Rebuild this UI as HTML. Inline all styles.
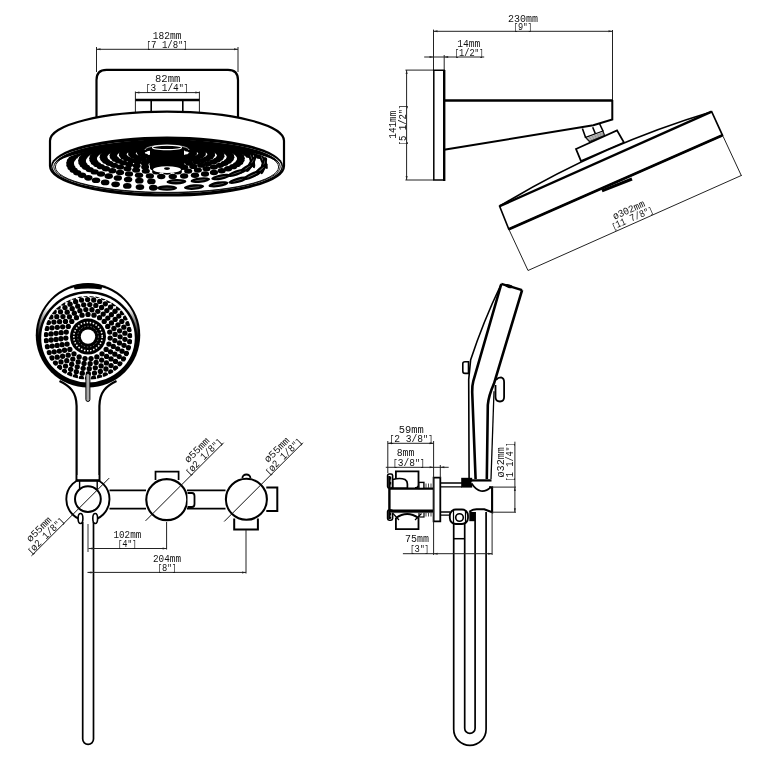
<!DOCTYPE html>
<html><head><meta charset="utf-8"><style>
html,body{margin:0;padding:0;background:#fff;}
svg{display:block;will-change:transform;}
text{font-family:"Liberation Mono", monospace;fill:#111;}
</style></head><body>
<svg width="780" height="769" viewBox="0 0 780 769">
<rect width="780" height="769" fill="#fff"/>
<line x1="96.50" y1="47.00" x2="96.50" y2="72.00" stroke="#222" stroke-width="1.0"/>
<line x1="238.00" y1="47.00" x2="238.00" y2="72.00" stroke="#222" stroke-width="1.0"/>
<line x1="96.50" y1="49.30" x2="238.00" y2="49.30" stroke="#222" stroke-width="1.0"/>
<path d="M96.50,49.30 L100.50,48.30 L100.50,50.30 Z" fill="#222" stroke="none"/>
<path d="M238.00,49.30 L234.00,50.30 L234.00,48.30 Z" fill="#222" stroke="none"/>
<text x="167.20" y="38.50" text-anchor="middle" font-size="10.2" textLength="28.70" lengthAdjust="spacingAndGlyphs">182mm</text>
<text x="167.00" y="47.60" text-anchor="middle" font-size="10.2" textLength="40.90" lengthAdjust="spacingAndGlyphs"><tspan font-size="8.4">[</tspan>7 1/8<tspan font-size="9">&quot;</tspan><tspan font-size="8.4">]</tspan></text>
<path d="M96.5,117 V80 Q96.5,69.8 106.5,69.8 H228 Q238,69.8 238,80 V117" fill="none" stroke="#000" stroke-width="2.2" />
<line x1="135.40" y1="91.50" x2="135.40" y2="113.00" stroke="#222" stroke-width="1.0"/>
<line x1="199.40" y1="91.50" x2="199.40" y2="113.00" stroke="#222" stroke-width="1.0"/>
<line x1="135.40" y1="92.60" x2="199.40" y2="92.60" stroke="#222" stroke-width="1.0"/>
<path d="M135.40,92.60 L139.40,91.60 L139.40,93.60 Z" fill="#222" stroke="none"/>
<path d="M199.40,92.60 L195.40,93.60 L195.40,91.60 Z" fill="#222" stroke="none"/>
<text x="167.70" y="82.40" text-anchor="middle" font-size="10.2" textLength="25.40" lengthAdjust="spacingAndGlyphs">82mm</text>
<text x="167.10" y="91.40" text-anchor="middle" font-size="10.2" textLength="42.70" lengthAdjust="spacingAndGlyphs"><tspan font-size="8.4">[</tspan>3 1/4<tspan font-size="9">&quot;</tspan><tspan font-size="8.4">]</tspan></text>
<line x1="135.40" y1="100.00" x2="199.40" y2="100.00" stroke="#000" stroke-width="2.7"/>
<line x1="151.20" y1="100.00" x2="151.20" y2="113.00" stroke="#000" stroke-width="1.6"/>
<line x1="182.80" y1="100.00" x2="182.80" y2="113.00" stroke="#000" stroke-width="1.6"/>
<path d="M50,140.7 A117,29 0 0 1 284,140.7 V166 A117,29.5 0 0 1 50,166 Z" fill="#fff" stroke="#000" stroke-width="2.2" />
<ellipse cx="167" cy="166" rx="116" ry="29.6" fill="#000"/>
<ellipse cx="167" cy="166.6" rx="114.6" ry="26.6" fill="#fff"/>
<ellipse cx="167" cy="166.8" rx="113.2" ry="26.0" fill="none" stroke="#000" stroke-width="0.9"/>
<ellipse cx="167" cy="167.0" rx="111.6" ry="25.4" fill="none" stroke="#000" stroke-width="0.9"/>
<path d="M54,166.6 A113,27 0 0 1 280,166.6 A113,20.5 0 0 0 54,166.6 Z" fill="#000"/>
<clipPath id="faceclip"><ellipse cx="167" cy="167.8" rx="110.5" ry="23.7"/></clipPath>
<g clip-path="url(#faceclip)"><ellipse cx="193.10" cy="152.00" rx="3.80" ry="2.45" fill="#000"/><ellipse cx="193.16" cy="153.63" rx="3.82" ry="2.47" fill="#000"/><ellipse cx="191.12" cy="155.26" rx="3.85" ry="2.49" fill="#000"/><ellipse cx="186.93" cy="156.74" rx="3.87" ry="2.52" fill="#000"/><ellipse cx="180.78" cy="157.91" rx="3.89" ry="2.53" fill="#000"/><ellipse cx="173.19" cy="158.62" rx="3.90" ry="2.54" fill="#000"/><ellipse cx="164.92" cy="158.77" rx="3.90" ry="2.54" fill="#000"/><ellipse cx="156.88" cy="158.33" rx="3.89" ry="2.54" fill="#000"/><ellipse cx="149.93" cy="157.38" rx="3.88" ry="2.52" fill="#000"/><ellipse cx="144.71" cy="156.03" rx="3.86" ry="2.51" fill="#000"/><ellipse cx="141.59" cy="154.45" rx="3.84" ry="2.48" fill="#000"/><ellipse cx="140.62" cy="152.81" rx="3.81" ry="2.46" fill="#000"/><ellipse cx="141.64" cy="151.23" rx="3.79" ry="2.40" fill="#000"/><ellipse cx="144.37" cy="149.82" rx="3.77" ry="2.31" fill="#000"/><ellipse cx="148.45" cy="148.65" rx="3.75" ry="2.24" fill="#000"/><ellipse cx="153.54" cy="147.76" rx="3.74" ry="2.18" fill="#000"/><ellipse cx="159.31" cy="147.19" rx="3.73" ry="2.14" fill="#000"/><ellipse cx="165.44" cy="146.94" rx="3.72" ry="2.12" fill="#000"/><ellipse cx="171.65" cy="147.03" rx="3.73" ry="2.12" fill="#000"/><ellipse cx="177.64" cy="147.44" rx="3.73" ry="2.15" fill="#000"/><ellipse cx="183.11" cy="148.17" rx="3.74" ry="2.20" fill="#000"/><ellipse cx="187.74" cy="149.20" rx="3.76" ry="2.27" fill="#000"/><ellipse cx="191.19" cy="150.49" rx="3.78" ry="2.36" fill="#000"/><ellipse cx="202.07" cy="152.82" rx="3.81" ry="2.46" fill="#000"/><ellipse cx="201.94" cy="154.52" rx="3.84" ry="2.48" fill="#000"/><ellipse cx="200.11" cy="156.25" rx="3.86" ry="2.51" fill="#000"/><ellipse cx="196.47" cy="157.90" rx="3.89" ry="2.53" fill="#000"/><ellipse cx="191.05" cy="159.36" rx="3.91" ry="2.55" fill="#000"/><ellipse cx="184.05" cy="160.51" rx="3.93" ry="2.57" fill="#000"/><ellipse cx="175.85" cy="161.25" rx="3.94" ry="2.58" fill="#000"/><ellipse cx="167.00" cy="161.50" rx="3.94" ry="2.58" fill="#000"/><ellipse cx="158.15" cy="161.25" rx="3.94" ry="2.58" fill="#000"/><ellipse cx="149.95" cy="160.51" rx="3.93" ry="2.57" fill="#000"/><ellipse cx="142.95" cy="159.36" rx="3.91" ry="2.55" fill="#000"/><ellipse cx="137.53" cy="157.90" rx="3.89" ry="2.53" fill="#000"/><ellipse cx="133.89" cy="156.25" rx="3.86" ry="2.51" fill="#000"/><ellipse cx="132.06" cy="154.52" rx="3.84" ry="2.48" fill="#000"/><ellipse cx="131.93" cy="152.82" rx="3.81" ry="2.46" fill="#000"/><ellipse cx="133.31" cy="151.21" rx="3.79" ry="2.40" fill="#000"/><ellipse cx="135.97" cy="149.76" rx="3.77" ry="2.31" fill="#000"/><ellipse cx="139.69" cy="148.50" rx="3.75" ry="2.23" fill="#000"/><ellipse cx="144.24" cy="147.45" rx="3.73" ry="2.15" fill="#000"/><ellipse cx="149.42" cy="146.62" rx="3.72" ry="2.10" fill="#000"/><ellipse cx="155.04" cy="146.03" rx="3.71" ry="2.05" fill="#000"/><ellipse cx="160.95" cy="145.68" rx="3.71" ry="2.03" fill="#000"/><ellipse cx="167.00" cy="145.56" rx="3.70" ry="2.02" fill="#000"/><ellipse cx="173.05" cy="145.68" rx="3.71" ry="2.03" fill="#000"/><ellipse cx="178.96" cy="146.03" rx="3.71" ry="2.05" fill="#000"/><ellipse cx="184.58" cy="146.62" rx="3.72" ry="2.10" fill="#000"/><ellipse cx="189.76" cy="147.45" rx="3.73" ry="2.15" fill="#000"/><ellipse cx="194.31" cy="148.50" rx="3.75" ry="2.23" fill="#000"/><ellipse cx="198.03" cy="149.76" rx="3.77" ry="2.31" fill="#000"/><ellipse cx="200.69" cy="151.21" rx="3.79" ry="2.40" fill="#000"/><ellipse cx="210.02" cy="152.00" rx="3.80" ry="2.45" fill="#000"/><ellipse cx="211.17" cy="153.64" rx="3.82" ry="2.47" fill="#000"/><ellipse cx="211.11" cy="155.37" rx="3.85" ry="2.50" fill="#000"/><ellipse cx="209.69" cy="157.13" rx="3.88" ry="2.52" fill="#000"/><ellipse cx="206.79" cy="158.88" rx="3.90" ry="2.54" fill="#000"/><ellipse cx="202.35" cy="160.53" rx="3.93" ry="2.57" fill="#000"/><ellipse cx="196.42" cy="162.01" rx="3.95" ry="2.59" fill="#000"/><ellipse cx="189.12" cy="163.21" rx="3.97" ry="2.60" fill="#000"/><ellipse cx="180.75" cy="164.06" rx="3.98" ry="2.62" fill="#000"/><ellipse cx="171.66" cy="164.51" rx="3.99" ry="2.62" fill="#000"/><ellipse cx="162.34" cy="164.51" rx="3.99" ry="2.62" fill="#000"/><ellipse cx="153.25" cy="164.06" rx="3.98" ry="2.62" fill="#000"/><ellipse cx="144.88" cy="163.21" rx="3.97" ry="2.60" fill="#000"/><ellipse cx="137.58" cy="162.01" rx="3.95" ry="2.59" fill="#000"/><ellipse cx="131.65" cy="160.53" rx="3.93" ry="2.57" fill="#000"/><ellipse cx="127.21" cy="158.88" rx="3.90" ry="2.54" fill="#000"/><ellipse cx="124.31" cy="157.13" rx="3.88" ry="2.52" fill="#000"/><ellipse cx="122.89" cy="155.37" rx="3.85" ry="2.50" fill="#000"/><ellipse cx="122.83" cy="153.64" rx="3.82" ry="2.47" fill="#000"/><ellipse cx="123.98" cy="152.00" rx="3.80" ry="2.45" fill="#000"/><ellipse cx="126.17" cy="150.49" rx="3.78" ry="2.36" fill="#000"/><ellipse cx="129.24" cy="149.12" rx="3.76" ry="2.27" fill="#000"/><ellipse cx="133.03" cy="147.91" rx="3.74" ry="2.19" fill="#000"/><ellipse cx="137.40" cy="146.88" rx="3.72" ry="2.11" fill="#000"/><ellipse cx="142.22" cy="146.02" rx="3.71" ry="2.05" fill="#000"/><ellipse cx="147.39" cy="145.33" rx="3.70" ry="2.00" fill="#000"/><ellipse cx="152.82" cy="144.82" rx="3.69" ry="1.96" fill="#000"/><ellipse cx="158.43" cy="144.48" rx="3.69" ry="1.93" fill="#000"/><ellipse cx="164.13" cy="144.31" rx="3.68" ry="1.92" fill="#000"/><ellipse cx="169.87" cy="144.31" rx="3.68" ry="1.92" fill="#000"/><ellipse cx="175.57" cy="144.48" rx="3.69" ry="1.93" fill="#000"/><ellipse cx="181.18" cy="144.82" rx="3.69" ry="1.96" fill="#000"/><ellipse cx="186.61" cy="145.33" rx="3.70" ry="2.00" fill="#000"/><ellipse cx="191.78" cy="146.02" rx="3.71" ry="2.05" fill="#000"/><ellipse cx="196.60" cy="146.88" rx="3.72" ry="2.11" fill="#000"/><ellipse cx="200.97" cy="147.91" rx="3.74" ry="2.19" fill="#000"/><ellipse cx="204.76" cy="149.12" rx="3.76" ry="2.27" fill="#000"/><ellipse cx="207.83" cy="150.49" rx="3.78" ry="2.36" fill="#000"/><ellipse cx="219.40" cy="152.81" rx="3.81" ry="2.46" fill="#000"/><ellipse cx="220.54" cy="154.53" rx="3.84" ry="2.48" fill="#000"/><ellipse cx="220.62" cy="156.34" rx="3.87" ry="2.51" fill="#000"/><ellipse cx="219.50" cy="158.20" rx="3.89" ry="2.54" fill="#000"/><ellipse cx="217.06" cy="160.08" rx="3.92" ry="2.56" fill="#000"/><ellipse cx="213.21" cy="161.92" rx="3.95" ry="2.59" fill="#000"/><ellipse cx="207.92" cy="163.64" rx="3.97" ry="2.61" fill="#000"/><ellipse cx="201.21" cy="165.17" rx="4.00" ry="2.63" fill="#000"/><ellipse cx="193.24" cy="166.43" rx="4.02" ry="2.65" fill="#000"/><ellipse cx="184.24" cy="167.36" rx="4.03" ry="2.66" fill="#000"/><ellipse cx="174.52" cy="167.90" rx="4.04" ry="2.67" fill="#000"/><ellipse cx="164.48" cy="168.01" rx="4.04" ry="2.67" fill="#000"/><ellipse cx="154.56" cy="167.68" rx="4.04" ry="2.67" fill="#000"/><ellipse cx="145.15" cy="166.95" rx="4.02" ry="2.66" fill="#000"/><ellipse cx="136.62" cy="165.84" rx="4.01" ry="2.64" fill="#000"/><ellipse cx="129.27" cy="164.43" rx="3.99" ry="2.62" fill="#000"/><ellipse cx="123.26" cy="162.80" rx="3.96" ry="2.60" fill="#000"/><ellipse cx="118.68" cy="161.01" rx="3.94" ry="2.57" fill="#000"/><ellipse cx="115.54" cy="159.15" rx="3.91" ry="2.55" fill="#000"/><ellipse cx="113.78" cy="157.27" rx="3.88" ry="2.52" fill="#000"/><ellipse cx="113.28" cy="155.42" rx="3.85" ry="2.50" fill="#000"/><ellipse cx="113.91" cy="153.66" rx="3.82" ry="2.47" fill="#000"/><ellipse cx="115.52" cy="152.00" rx="3.80" ry="2.45" fill="#000"/><ellipse cx="117.97" cy="150.47" rx="3.78" ry="2.36" fill="#000"/><ellipse cx="121.13" cy="149.08" rx="3.76" ry="2.27" fill="#000"/><ellipse cx="124.87" cy="147.83" rx="3.74" ry="2.18" fill="#000"/><ellipse cx="129.09" cy="146.74" rx="3.72" ry="2.10" fill="#000"/><ellipse cx="133.69" cy="145.79" rx="3.71" ry="2.03" fill="#000"/><ellipse cx="138.59" cy="144.99" rx="3.69" ry="1.97" fill="#000"/><ellipse cx="143.73" cy="144.33" rx="3.69" ry="1.92" fill="#000"/><ellipse cx="149.05" cy="143.82" rx="3.68" ry="1.88" fill="#000"/><ellipse cx="154.49" cy="143.45" rx="3.67" ry="1.85" fill="#000"/><ellipse cx="160.03" cy="143.21" rx="3.67" ry="1.83" fill="#000"/><ellipse cx="165.60" cy="143.11" rx="3.67" ry="1.82" fill="#000"/><ellipse cx="171.19" cy="143.14" rx="3.67" ry="1.82" fill="#000"/><ellipse cx="176.75" cy="143.31" rx="3.67" ry="1.84" fill="#000"/><ellipse cx="182.24" cy="143.62" rx="3.67" ry="1.86" fill="#000"/><ellipse cx="187.63" cy="144.06" rx="3.68" ry="1.90" fill="#000"/><ellipse cx="192.87" cy="144.64" rx="3.69" ry="1.95" fill="#000"/><ellipse cx="197.89" cy="145.37" rx="3.70" ry="2.00" fill="#000"/><ellipse cx="202.65" cy="146.24" rx="3.71" ry="2.07" fill="#000"/><ellipse cx="207.07" cy="147.27" rx="3.73" ry="2.14" fill="#000"/><ellipse cx="211.07" cy="148.44" rx="3.75" ry="2.22" fill="#000"/><ellipse cx="214.53" cy="149.75" rx="3.77" ry="2.31" fill="#000"/><ellipse cx="217.35" cy="151.22" rx="3.79" ry="2.40" fill="#000"/><ellipse cx="226.94" cy="152.00" rx="3.80" ry="2.45" fill="#000"/><ellipse cx="228.99" cy="153.67" rx="3.83" ry="2.47" fill="#000"/><ellipse cx="230.24" cy="155.46" rx="3.85" ry="2.50" fill="#000"/><ellipse cx="230.55" cy="157.36" rx="3.88" ry="2.52" fill="#000"/><ellipse cx="229.79" cy="159.32" rx="3.91" ry="2.55" fill="#000"/><ellipse cx="227.84" cy="161.33" rx="3.94" ry="2.58" fill="#000"/><ellipse cx="224.58" cy="163.34" rx="3.97" ry="2.61" fill="#000"/><ellipse cx="219.94" cy="165.28" rx="4.00" ry="2.63" fill="#000"/><ellipse cx="213.90" cy="167.10" rx="4.03" ry="2.66" fill="#000"/><ellipse cx="206.50" cy="168.73" rx="4.05" ry="2.68" fill="#000"/><ellipse cx="197.87" cy="170.09" rx="4.07" ry="2.70" fill="#000"/><ellipse cx="188.20" cy="171.11" rx="4.09" ry="2.71" fill="#000"/><ellipse cx="177.79" cy="171.75" rx="4.10" ry="2.72" fill="#000"/><ellipse cx="167.00" cy="171.97" rx="4.10" ry="2.72" fill="#000"/><ellipse cx="156.21" cy="171.75" rx="4.10" ry="2.72" fill="#000"/><ellipse cx="145.80" cy="171.11" rx="4.09" ry="2.71" fill="#000"/><ellipse cx="136.13" cy="170.09" rx="4.07" ry="2.70" fill="#000"/><ellipse cx="127.50" cy="168.73" rx="4.05" ry="2.68" fill="#000"/><ellipse cx="120.10" cy="167.10" rx="4.03" ry="2.66" fill="#000"/><ellipse cx="114.06" cy="165.28" rx="4.00" ry="2.63" fill="#000"/><ellipse cx="109.42" cy="163.34" rx="3.97" ry="2.61" fill="#000"/><ellipse cx="106.16" cy="161.33" rx="3.94" ry="2.58" fill="#000"/><ellipse cx="104.21" cy="159.32" rx="3.91" ry="2.55" fill="#000"/><ellipse cx="103.45" cy="157.36" rx="3.88" ry="2.52" fill="#000"/><ellipse cx="103.76" cy="155.46" rx="3.85" ry="2.50" fill="#000"/><ellipse cx="105.01" cy="153.67" rx="3.83" ry="2.47" fill="#000"/><ellipse cx="107.06" cy="152.00" rx="3.80" ry="2.45" fill="#000"/><ellipse cx="109.79" cy="150.46" rx="3.78" ry="2.35" fill="#000"/><ellipse cx="113.10" cy="149.05" rx="3.76" ry="2.26" fill="#000"/><ellipse cx="116.87" cy="147.78" rx="3.74" ry="2.18" fill="#000"/><ellipse cx="121.04" cy="146.64" rx="3.72" ry="2.10" fill="#000"/><ellipse cx="125.52" cy="145.64" rx="3.70" ry="2.02" fill="#000"/><ellipse cx="130.25" cy="144.76" rx="3.69" ry="1.96" fill="#000"/><ellipse cx="135.18" cy="144.02" rx="3.68" ry="1.90" fill="#000"/><ellipse cx="140.27" cy="143.40" rx="3.67" ry="1.85" fill="#000"/><ellipse cx="145.49" cy="142.89" rx="3.66" ry="1.80" fill="#000"/><ellipse cx="150.79" cy="142.50" rx="3.66" ry="1.77" fill="#000"/><ellipse cx="156.16" cy="142.23" rx="3.65" ry="1.75" fill="#000"/><ellipse cx="161.57" cy="142.06" rx="3.65" ry="1.73" fill="#000"/><ellipse cx="167.00" cy="142.01" rx="3.65" ry="1.73" fill="#000"/><ellipse cx="172.43" cy="142.06" rx="3.65" ry="1.73" fill="#000"/><ellipse cx="177.84" cy="142.23" rx="3.65" ry="1.75" fill="#000"/><ellipse cx="183.21" cy="142.50" rx="3.66" ry="1.77" fill="#000"/><ellipse cx="188.51" cy="142.89" rx="3.66" ry="1.80" fill="#000"/><ellipse cx="193.73" cy="143.40" rx="3.67" ry="1.85" fill="#000"/><ellipse cx="198.82" cy="144.02" rx="3.68" ry="1.90" fill="#000"/><ellipse cx="203.75" cy="144.76" rx="3.69" ry="1.96" fill="#000"/><ellipse cx="208.48" cy="145.64" rx="3.70" ry="2.02" fill="#000"/><ellipse cx="212.96" cy="146.64" rx="3.72" ry="2.10" fill="#000"/><ellipse cx="217.13" cy="147.78" rx="3.74" ry="2.18" fill="#000"/><ellipse cx="220.90" cy="149.05" rx="3.76" ry="2.26" fill="#000"/><ellipse cx="224.21" cy="150.46" rx="3.78" ry="2.35" fill="#000"/><ellipse cx="236.69" cy="152.81" rx="3.81" ry="2.46" fill="#000"/><ellipse cx="238.83" cy="154.53" rx="3.84" ry="2.48" fill="#000"/><ellipse cx="240.28" cy="156.36" rx="3.87" ry="2.51" fill="#000"/><ellipse cx="240.92" cy="158.31" rx="3.89" ry="2.54" fill="#000"/><ellipse cx="240.65" cy="160.34" rx="3.93" ry="2.56" fill="#000"/><ellipse cx="239.34" cy="162.44" rx="3.96" ry="2.59" fill="#000"/><ellipse cx="236.86" cy="164.57" rx="3.99" ry="2.62" fill="#000"/><ellipse cx="233.14" cy="166.70" rx="4.02" ry="2.65" fill="#000"/><ellipse cx="228.08" cy="168.76" rx="4.05" ry="2.68" fill="#000"/><ellipse cx="221.68" cy="170.71" rx="4.08" ry="2.71" fill="#000"/><ellipse cx="213.95" cy="172.48" rx="4.11" ry="2.73" fill="#000"/><ellipse cx="204.99" cy="173.99" rx="4.13" ry="2.75" fill="#000"/><ellipse cx="194.97" cy="175.20" rx="4.15" ry="2.77" fill="#000"/><ellipse cx="184.13" cy="176.03" rx="4.16" ry="2.78" fill="#000"/><ellipse cx="172.77" cy="176.46" rx="4.17" ry="2.79" fill="#000"/><ellipse cx="161.23" cy="176.46" rx="4.17" ry="2.79" fill="#000"/><ellipse cx="149.87" cy="176.03" rx="4.16" ry="2.78" fill="#000"/><ellipse cx="139.03" cy="175.20" rx="4.15" ry="2.77" fill="#000"/><ellipse cx="129.01" cy="173.99" rx="4.13" ry="2.75" fill="#000"/><ellipse cx="120.05" cy="172.48" rx="4.11" ry="2.73" fill="#000"/><ellipse cx="112.32" cy="170.71" rx="4.08" ry="2.71" fill="#000"/><ellipse cx="105.92" cy="168.76" rx="4.05" ry="2.68" fill="#000"/><ellipse cx="100.86" cy="166.70" rx="4.02" ry="2.65" fill="#000"/><ellipse cx="97.14" cy="164.57" rx="3.99" ry="2.62" fill="#000"/><ellipse cx="94.66" cy="162.44" rx="3.96" ry="2.59" fill="#000"/><ellipse cx="93.35" cy="160.34" rx="3.93" ry="2.56" fill="#000"/><ellipse cx="93.08" cy="158.31" rx="3.89" ry="2.54" fill="#000"/><ellipse cx="93.72" cy="156.36" rx="3.87" ry="2.51" fill="#000"/><ellipse cx="95.17" cy="154.53" rx="3.84" ry="2.48" fill="#000"/><ellipse cx="97.31" cy="152.81" rx="3.81" ry="2.46" fill="#000"/><ellipse cx="100.03" cy="151.22" rx="3.79" ry="2.40" fill="#000"/><ellipse cx="103.23" cy="149.76" rx="3.77" ry="2.31" fill="#000"/><ellipse cx="106.85" cy="148.42" rx="3.75" ry="2.22" fill="#000"/><ellipse cx="110.80" cy="147.21" rx="3.73" ry="2.14" fill="#000"/><ellipse cx="115.02" cy="146.11" rx="3.71" ry="2.06" fill="#000"/><ellipse cx="119.47" cy="145.14" rx="3.70" ry="1.99" fill="#000"/><ellipse cx="124.10" cy="144.28" rx="3.68" ry="1.92" fill="#000"/><ellipse cx="128.88" cy="143.53" rx="3.67" ry="1.86" fill="#000"/><ellipse cx="133.77" cy="142.88" rx="3.66" ry="1.80" fill="#000"/><ellipse cx="138.75" cy="142.33" rx="3.65" ry="1.76" fill="#000"/><ellipse cx="143.80" cy="141.88" rx="3.65" ry="1.72" fill="#000"/><ellipse cx="148.91" cy="141.53" rx="3.64" ry="1.68" fill="#000"/><ellipse cx="154.05" cy="141.26" rx="3.64" ry="1.66" fill="#000"/><ellipse cx="159.22" cy="141.08" rx="3.64" ry="1.64" fill="#000"/><ellipse cx="164.40" cy="141.00" rx="3.63" ry="1.64" fill="#000"/><ellipse cx="169.60" cy="141.00" rx="3.63" ry="1.64" fill="#000"/><ellipse cx="174.78" cy="141.08" rx="3.64" ry="1.64" fill="#000"/><ellipse cx="179.95" cy="141.26" rx="3.64" ry="1.66" fill="#000"/><ellipse cx="185.09" cy="141.53" rx="3.64" ry="1.68" fill="#000"/><ellipse cx="190.20" cy="141.88" rx="3.65" ry="1.72" fill="#000"/><ellipse cx="195.25" cy="142.33" rx="3.65" ry="1.76" fill="#000"/><ellipse cx="200.23" cy="142.88" rx="3.66" ry="1.80" fill="#000"/><ellipse cx="205.12" cy="143.53" rx="3.67" ry="1.86" fill="#000"/><ellipse cx="209.90" cy="144.28" rx="3.68" ry="1.92" fill="#000"/><ellipse cx="214.53" cy="145.14" rx="3.70" ry="1.99" fill="#000"/><ellipse cx="218.98" cy="146.11" rx="3.71" ry="2.06" fill="#000"/><ellipse cx="223.20" cy="147.21" rx="3.73" ry="2.14" fill="#000"/><ellipse cx="227.15" cy="148.42" rx="3.75" ry="2.22" fill="#000"/><ellipse cx="230.77" cy="149.76" rx="3.77" ry="2.31" fill="#000"/><ellipse cx="233.97" cy="151.22" rx="3.79" ry="2.40" fill="#000"/><ellipse cx="243.86" cy="152.00" rx="3.80" ry="2.45" fill="#000"/><ellipse cx="246.71" cy="153.67" rx="3.82" ry="2.47" fill="#000"/><ellipse cx="249.04" cy="155.46" rx="3.85" ry="2.50" fill="#000"/><ellipse cx="251.78" cy="159.42" rx="9.19" ry="2.42" fill="#000" transform="rotate(73.7 251.78 159.42)"/><ellipse cx="251.78" cy="159.42" rx="5.08" ry="0.35" fill="#777" transform="rotate(73.7 251.78 159.42)"/><ellipse cx="251.19" cy="163.80" rx="9.35" ry="2.48" fill="#000" transform="rotate(119.5 251.19 163.80)"/><ellipse cx="251.19" cy="163.80" rx="5.17" ry="0.35" fill="#777" transform="rotate(119.5 251.19 163.80)"/><ellipse cx="246.32" cy="168.43" rx="9.51" ry="2.54" fill="#000" transform="rotate(147.5 246.32 168.43)"/><ellipse cx="246.32" cy="168.43" rx="5.26" ry="0.35" fill="#777" transform="rotate(147.5 246.32 168.43)"/><ellipse cx="236.34" cy="173.00" rx="9.67" ry="2.60" fill="#000" transform="rotate(160.9 236.34 173.00)"/><ellipse cx="236.34" cy="173.00" rx="5.35" ry="0.35" fill="#777" transform="rotate(160.9 236.34 173.00)"/><ellipse cx="220.88" cy="177.08" rx="9.81" ry="2.66" fill="#000" transform="rotate(168.6 220.88 177.08)"/><ellipse cx="220.88" cy="177.08" rx="5.43" ry="0.35" fill="#777" transform="rotate(168.6 220.88 177.08)"/><ellipse cx="200.39" cy="180.13" rx="9.92" ry="2.69" fill="#000" transform="rotate(174.0 200.39 180.13)"/><ellipse cx="200.39" cy="180.13" rx="5.49" ry="0.35" fill="#777" transform="rotate(174.0 200.39 180.13)"/><ellipse cx="176.41" cy="181.68" rx="9.98" ry="2.72" fill="#000" transform="rotate(178.4 176.41 181.68)"/><ellipse cx="176.41" cy="181.68" rx="5.52" ry="0.35" fill="#777" transform="rotate(178.4 176.41 181.68)"/><ellipse cx="151.39" cy="181.45" rx="4.24" ry="2.85" fill="#000"/><ellipse cx="139.36" cy="180.67" rx="4.23" ry="2.84" fill="#000"/><ellipse cx="128.08" cy="179.49" rx="4.21" ry="2.83" fill="#000"/><ellipse cx="117.82" cy="177.96" rx="4.19" ry="2.81" fill="#000"/><ellipse cx="108.75" cy="176.13" rx="4.16" ry="2.78" fill="#000"/><ellipse cx="101.01" cy="174.09" rx="4.13" ry="2.75" fill="#000"/><ellipse cx="94.65" cy="171.88" rx="4.10" ry="2.72" fill="#000"/><ellipse cx="89.67" cy="169.59" rx="4.06" ry="2.69" fill="#000"/><ellipse cx="86.01" cy="167.26" rx="4.03" ry="2.66" fill="#000"/><ellipse cx="83.59" cy="164.94" rx="3.99" ry="2.63" fill="#000"/><ellipse cx="82.30" cy="162.67" rx="3.96" ry="2.60" fill="#000"/><ellipse cx="82.02" cy="160.48" rx="3.93" ry="2.57" fill="#000"/><ellipse cx="82.63" cy="158.38" rx="3.90" ry="2.54" fill="#000"/><ellipse cx="84.01" cy="156.40" rx="3.87" ry="2.51" fill="#000"/><ellipse cx="86.05" cy="154.55" rx="3.84" ry="2.49" fill="#000"/><ellipse cx="88.66" cy="152.82" rx="3.81" ry="2.46" fill="#000"/><ellipse cx="91.73" cy="151.22" rx="3.79" ry="2.40" fill="#000"/><ellipse cx="95.20" cy="149.74" rx="3.77" ry="2.31" fill="#000"/><ellipse cx="98.99" cy="148.39" rx="3.75" ry="2.22" fill="#000"/><ellipse cx="103.05" cy="147.16" rx="3.73" ry="2.13" fill="#000"/><ellipse cx="107.32" cy="146.05" rx="3.71" ry="2.05" fill="#000"/><ellipse cx="111.77" cy="145.04" rx="3.70" ry="1.98" fill="#000"/><ellipse cx="116.36" cy="144.14" rx="3.68" ry="1.91" fill="#000"/><ellipse cx="121.07" cy="143.34" rx="3.67" ry="1.84" fill="#000"/><ellipse cx="125.86" cy="142.64" rx="3.66" ry="1.78" fill="#000"/><ellipse cx="130.72" cy="142.03" rx="3.65" ry="1.73" fill="#000"/><ellipse cx="135.64" cy="141.50" rx="3.64" ry="1.68" fill="#000"/><ellipse cx="140.60" cy="141.06" rx="3.64" ry="1.64" fill="#000"/><ellipse cx="145.59" cy="140.70" rx="3.63" ry="1.61" fill="#000"/><ellipse cx="150.61" cy="140.42" rx="3.63" ry="1.58" fill="#000"/><ellipse cx="155.64" cy="140.22" rx="3.62" ry="1.56" fill="#000"/><ellipse cx="160.69" cy="140.09" rx="3.62" ry="1.55" fill="#000"/><ellipse cx="165.74" cy="140.03" rx="3.62" ry="1.54" fill="#000"/><ellipse cx="170.79" cy="140.05" rx="3.62" ry="1.55" fill="#000"/><ellipse cx="175.84" cy="140.14" rx="3.62" ry="1.55" fill="#000"/><ellipse cx="180.87" cy="140.31" rx="3.62" ry="1.57" fill="#000"/><ellipse cx="185.90" cy="140.55" rx="3.63" ry="1.59" fill="#000"/><ellipse cx="190.90" cy="140.87" rx="3.63" ry="1.62" fill="#000"/><ellipse cx="195.88" cy="141.27" rx="3.64" ry="1.66" fill="#000"/><ellipse cx="200.82" cy="141.76" rx="3.65" ry="1.70" fill="#000"/><ellipse cx="205.72" cy="142.32" rx="3.65" ry="1.76" fill="#000"/><ellipse cx="210.55" cy="142.98" rx="3.66" ry="1.81" fill="#000"/><ellipse cx="215.30" cy="143.73" rx="3.68" ry="1.87" fill="#000"/><ellipse cx="219.95" cy="144.58" rx="3.69" ry="1.94" fill="#000"/><ellipse cx="224.47" cy="145.53" rx="3.70" ry="2.01" fill="#000"/><ellipse cx="228.84" cy="146.59" rx="3.72" ry="2.09" fill="#000"/><ellipse cx="233.01" cy="147.76" rx="3.74" ry="2.18" fill="#000"/><ellipse cx="236.94" cy="149.05" rx="3.76" ry="2.26" fill="#000"/><ellipse cx="240.58" cy="150.46" rx="3.78" ry="2.36" fill="#000"/><ellipse cx="253.99" cy="152.82" rx="3.81" ry="2.46" fill="#000"/><ellipse cx="257.05" cy="154.56" rx="3.84" ry="2.49" fill="#000"/><ellipse cx="259.66" cy="156.44" rx="3.87" ry="2.51" fill="#000"/><ellipse cx="263.16" cy="160.59" rx="9.23" ry="2.44" fill="#000" transform="rotate(63.9 263.16 160.59)"/><ellipse cx="263.16" cy="160.59" rx="5.11" ry="0.35" fill="#777" transform="rotate(63.9 263.16 160.59)"/><ellipse cx="263.68" cy="165.23" rx="9.40" ry="2.50" fill="#000" transform="rotate(104.9 263.68 165.23)"/><ellipse cx="263.68" cy="165.23" rx="5.20" ry="0.35" fill="#777" transform="rotate(104.9 263.68 165.23)"/><ellipse cx="260.25" cy="170.24" rx="9.57" ry="2.57" fill="#000" transform="rotate(138.2 260.25 170.24)"/><ellipse cx="260.25" cy="170.24" rx="5.30" ry="0.35" fill="#777" transform="rotate(138.2 260.25 170.24)"/><ellipse cx="251.92" cy="175.37" rx="9.75" ry="2.63" fill="#000" transform="rotate(155.3 251.92 175.37)"/><ellipse cx="251.92" cy="175.37" rx="5.40" ry="0.35" fill="#777" transform="rotate(155.3 251.92 175.37)"/><ellipse cx="237.98" cy="180.24" rx="9.93" ry="2.70" fill="#000" transform="rotate(164.8 237.98 180.24)"/><ellipse cx="237.98" cy="180.24" rx="5.49" ry="0.35" fill="#777" transform="rotate(164.8 237.98 180.24)"/><ellipse cx="218.39" cy="184.32" rx="10.07" ry="2.75" fill="#000" transform="rotate(171.0 218.39 184.32)"/><ellipse cx="218.39" cy="184.32" rx="5.57" ry="0.35" fill="#777" transform="rotate(171.0 218.39 184.32)"/><ellipse cx="194.06" cy="187.07" rx="10.17" ry="2.79" fill="#000" transform="rotate(175.8 194.06 187.07)"/><ellipse cx="194.06" cy="187.07" rx="5.62" ry="0.35" fill="#777" transform="rotate(175.8 194.06 187.07)"/><ellipse cx="167.00" cy="188.05" rx="10.20" ry="2.80" fill="#000" transform="rotate(180.0 167.00 188.05)"/><ellipse cx="167.00" cy="188.05" rx="5.64" ry="0.35" fill="#777" transform="rotate(180.0 167.00 188.05)"/><ellipse cx="153.29" cy="187.80" rx="4.34" ry="2.94" fill="#000"/><ellipse cx="139.94" cy="187.07" rx="4.33" ry="2.93" fill="#000"/><ellipse cx="127.28" cy="185.90" rx="4.31" ry="2.92" fill="#000"/><ellipse cx="115.61" cy="184.32" rx="4.28" ry="2.89" fill="#000"/><ellipse cx="105.14" cy="182.41" rx="4.26" ry="2.87" fill="#000"/><ellipse cx="96.02" cy="180.24" rx="4.22" ry="2.84" fill="#000"/><ellipse cx="88.33" cy="177.87" rx="4.19" ry="2.81" fill="#000"/><ellipse cx="82.08" cy="175.37" rx="4.15" ry="2.77" fill="#000"/><ellipse cx="77.25" cy="172.81" rx="4.11" ry="2.74" fill="#000"/><ellipse cx="73.75" cy="170.24" rx="4.07" ry="2.70" fill="#000"/><ellipse cx="71.48" cy="167.70" rx="4.04" ry="2.67" fill="#000"/><ellipse cx="70.32" cy="165.23" rx="4.00" ry="2.63" fill="#000"/><ellipse cx="70.15" cy="162.85" rx="3.96" ry="2.60" fill="#000"/><ellipse cx="70.84" cy="160.59" rx="3.93" ry="2.57" fill="#000"/><ellipse cx="72.27" cy="158.45" rx="3.90" ry="2.54" fill="#000"/><ellipse cx="74.34" cy="156.44" rx="3.87" ry="2.51" fill="#000"/><ellipse cx="76.95" cy="154.56" rx="3.84" ry="2.49" fill="#000"/><ellipse cx="80.01" cy="152.82" rx="3.81" ry="2.46" fill="#000"/><ellipse cx="83.44" cy="151.21" rx="3.79" ry="2.40" fill="#000"/><ellipse cx="87.18" cy="149.73" rx="3.77" ry="2.31" fill="#000"/><ellipse cx="91.17" cy="148.37" rx="3.75" ry="2.22" fill="#000"/><ellipse cx="95.36" cy="147.12" rx="3.73" ry="2.13" fill="#000"/><ellipse cx="99.72" cy="145.99" rx="3.71" ry="2.05" fill="#000"/><ellipse cx="104.21" cy="144.97" rx="3.69" ry="1.97" fill="#000"/><ellipse cx="108.81" cy="144.04" rx="3.68" ry="1.90" fill="#000"/><ellipse cx="113.49" cy="143.20" rx="3.67" ry="1.83" fill="#000"/><ellipse cx="118.23" cy="142.46" rx="3.66" ry="1.77" fill="#000"/><ellipse cx="123.02" cy="141.80" rx="3.65" ry="1.71" fill="#000"/><ellipse cx="127.84" cy="141.22" rx="3.64" ry="1.66" fill="#000"/><ellipse cx="132.69" cy="140.72" rx="3.63" ry="1.61" fill="#000"/><ellipse cx="137.57" cy="140.29" rx="3.62" ry="1.57" fill="#000"/><ellipse cx="142.46" cy="139.93" rx="3.62" ry="1.53" fill="#000"/><ellipse cx="147.36" cy="139.64" rx="3.61" ry="1.51" fill="#000"/><ellipse cx="152.26" cy="139.42" rx="3.61" ry="1.48" fill="#000"/><ellipse cx="157.17" cy="139.26" rx="3.61" ry="1.47" fill="#000"/><ellipse cx="162.09" cy="139.17" rx="3.61" ry="1.46" fill="#000"/><ellipse cx="167.00" cy="139.14" rx="3.61" ry="1.45" fill="#000"/><ellipse cx="171.91" cy="139.17" rx="3.61" ry="1.46" fill="#000"/><ellipse cx="176.83" cy="139.26" rx="3.61" ry="1.47" fill="#000"/><ellipse cx="181.74" cy="139.42" rx="3.61" ry="1.48" fill="#000"/><ellipse cx="186.64" cy="139.64" rx="3.61" ry="1.51" fill="#000"/><ellipse cx="191.54" cy="139.93" rx="3.62" ry="1.53" fill="#000"/><ellipse cx="196.43" cy="140.29" rx="3.62" ry="1.57" fill="#000"/><ellipse cx="201.31" cy="140.72" rx="3.63" ry="1.61" fill="#000"/><ellipse cx="206.16" cy="141.22" rx="3.64" ry="1.66" fill="#000"/><ellipse cx="210.98" cy="141.80" rx="3.65" ry="1.71" fill="#000"/><ellipse cx="215.77" cy="142.46" rx="3.66" ry="1.77" fill="#000"/><ellipse cx="220.51" cy="143.20" rx="3.67" ry="1.83" fill="#000"/><ellipse cx="225.19" cy="144.04" rx="3.68" ry="1.90" fill="#000"/><ellipse cx="229.79" cy="144.97" rx="3.69" ry="1.97" fill="#000"/><ellipse cx="234.28" cy="145.99" rx="3.71" ry="2.05" fill="#000"/><ellipse cx="238.64" cy="147.12" rx="3.73" ry="2.13" fill="#000"/><ellipse cx="242.83" cy="148.37" rx="3.75" ry="2.22" fill="#000"/><ellipse cx="246.82" cy="149.73" rx="3.77" ry="2.31" fill="#000"/><ellipse cx="250.56" cy="151.21" rx="3.79" ry="2.40" fill="#000"/></g>
<path d="M150,148 V168 A17,4.8 0 0 0 184,168 V148 Z" fill="#000"/>
<ellipse cx="167" cy="148" rx="18.5" ry="4.6" fill="#000"/>
<ellipse cx="167" cy="147.4" rx="14.5" ry="2.2" fill="none" stroke="#fff" stroke-width="1.1"/>
<path d="M145,150 A22,5 0 0 1 189,150" fill="none" stroke="#fff" stroke-width="0.7"/>
<ellipse cx="167" cy="169.6" rx="14" ry="3.4" fill="#fff"/>
<ellipse cx="167" cy="168.6" rx="3" ry="1.3" fill="#000"/>
<line x1="433.50" y1="29.60" x2="433.50" y2="71.00" stroke="#222" stroke-width="1.0"/>
<line x1="612.50" y1="30.00" x2="612.50" y2="101.00" stroke="#222" stroke-width="1.0"/>
<line x1="433.50" y1="31.30" x2="612.50" y2="31.30" stroke="#222" stroke-width="1.0"/>
<path d="M433.50,31.30 L437.50,30.30 L437.50,32.30 Z" fill="#222" stroke="none"/>
<path d="M612.50,31.30 L608.50,32.30 L608.50,30.30 Z" fill="#222" stroke="none"/>
<text x="523.00" y="21.70" text-anchor="middle" font-size="10.2" textLength="30.00" lengthAdjust="spacingAndGlyphs">230mm</text>
<text x="522.80" y="30.00" text-anchor="middle" font-size="10.2" textLength="18.30" lengthAdjust="spacingAndGlyphs"><tspan font-size="8.4">[</tspan>9<tspan font-size="9">&quot;</tspan><tspan font-size="8.4">]</tspan></text>
<line x1="444.20" y1="55.00" x2="444.20" y2="71.00" stroke="#222" stroke-width="1.0"/>
<line x1="424.20" y1="57.00" x2="484.20" y2="57.00" stroke="#222" stroke-width="1.0"/>
<path d="M433.50,57.00 L429.50,58.00 L429.50,56.00 Z" fill="#222" stroke="none"/>
<path d="M444.20,57.00 L448.20,56.00 L448.20,58.00 Z" fill="#222" stroke="none"/>
<text x="468.80" y="46.80" text-anchor="middle" font-size="10.2" textLength="23.10" lengthAdjust="spacingAndGlyphs">14mm</text>
<text x="469.10" y="55.80" text-anchor="middle" font-size="10.2" textLength="28.80" lengthAdjust="spacingAndGlyphs"><tspan font-size="8.4">[</tspan>1/2<tspan font-size="9">&quot;</tspan><tspan font-size="8.4">]</tspan></text>
<line x1="405.40" y1="70.10" x2="433.50" y2="70.10" stroke="#222" stroke-width="1.0"/>
<line x1="405.40" y1="180.00" x2="433.50" y2="180.00" stroke="#222" stroke-width="1.0"/>
<line x1="406.60" y1="70.10" x2="406.60" y2="180.00" stroke="#222" stroke-width="1.0"/>
<path d="M406.60,70.10 L407.60,74.10 L405.60,74.10 Z" fill="#222" stroke="none"/>
<path d="M406.60,180.00 L405.60,176.00 L407.60,176.00 Z" fill="#222" stroke="none"/>
<g transform="translate(392.40 124.70) rotate(-90)"><text x="0" y="3.30" text-anchor="middle" font-size="10.2" textLength="27.90" lengthAdjust="spacingAndGlyphs">141mm</text></g>
<g transform="translate(402.50 125.10) rotate(-90)"><text x="0" y="3.30" text-anchor="middle" font-size="10.2" textLength="40.60" lengthAdjust="spacingAndGlyphs"><tspan font-size="8.4">[</tspan>5 1/2<tspan font-size="9">&quot;</tspan><tspan font-size="8.4">]</tspan></text></g>
<path d="M433.8,70.3 H444 V180 H433.8 Z" fill="none" stroke="#000" stroke-width="1.5" />
<line x1="444.20" y1="70.00" x2="444.20" y2="181.00" stroke="#000" stroke-width="2.4"/>
<line x1="444.00" y1="100.50" x2="612.50" y2="100.50" stroke="#000" stroke-width="2.5"/>
<path d="M612.3,100 V119.5 L593.3,125.3 L444,149.8" fill="none" stroke="#000" stroke-width="2" />
<path d="M582.4,128.5 L585.6,137.4 M592.7,127.2 L595.5,134 M599.7,124 L603,131" fill="none" stroke="#000" stroke-width="1.6" />
<path d="M585.6,137.4 L603,131 L604.5,135.5 L589.5,141.5 Z" fill="#fff" stroke="#000" stroke-width="1.2"/>
<line x1="586.30" y1="138.80" x2="603.50" y2="132.30" stroke="#444" stroke-width="0.6"/>
<line x1="587.30" y1="139.80" x2="603.80" y2="133.20" stroke="#444" stroke-width="0.6"/>
<line x1="588.30" y1="140.80" x2="604.10" y2="134.10" stroke="#444" stroke-width="0.6"/>
<line x1="589.30" y1="141.80" x2="604.40" y2="135.00" stroke="#444" stroke-width="0.6"/>
<path d="M576,149 L617,130.4 L624,142.6 L581,161 Z" fill="#fff" stroke="#000" stroke-width="1.8" />
<path d="M499.6,206.2 Q599.5,145.3 711.7,111.7 L722.5,135.3 L508.8,229.2 Z" fill="#fff" stroke="#000" stroke-width="1.7" />
<path d="M499.6,206.2 L711.7,111.7" fill="none" stroke="#000" stroke-width="2.4" />
<line x1="508.80" y1="229.20" x2="722.50" y2="135.30" stroke="#000" stroke-width="2.6"/>
<path d="M602,190.8 L632,179" fill="none" stroke="#000" stroke-width="3" />
<line x1="508.80" y1="229.20" x2="528.00" y2="270.50" stroke="#222" stroke-width="1.0"/>
<line x1="723.00" y1="136.20" x2="741.50" y2="176.00" stroke="#222" stroke-width="1.0"/>
<line x1="528.00" y1="270.50" x2="741.50" y2="175.40" stroke="#222" stroke-width="1.0"/>
<g transform="translate(628.70 209.90) rotate(-23.9)"><text x="0" y="3.30" text-anchor="middle" font-size="10.2" textLength="34.00" lengthAdjust="spacingAndGlyphs">ø302mm</text></g>
<g transform="translate(632.20 217.90) rotate(-23.9)"><text x="0" y="3.30" text-anchor="middle" font-size="10.2" textLength="44.00" lengthAdjust="spacingAndGlyphs"><tspan font-size="8.4">[</tspan>11 7/8<tspan font-size="9">&quot;</tspan><tspan font-size="8.4">]</tspan></text></g>
<circle cx="88" cy="335.35" r="52.25" fill="#000"/>
<ellipse cx="88" cy="337.9" rx="46.8" ry="44.5" fill="#fff"/>
<linearGradient id="hsgrad" gradientUnits="userSpaceOnUse" x1="0" y1="284" x2="0" y2="336"><stop offset="0" stop-color="#fff"/><stop offset="0.45" stop-color="#fff"/><stop offset="1" stop-color="#000"/></linearGradient>
<path d="M37.8,335.35 A50.2,50.2 0 1 1 138.2,335.35 A50.2,50.2 0 1 1 37.8,335.35 Z M38.8,337.9 A49.2,46.9 0 1 0 137.2,337.9 A49.2,46.9 0 1 0 38.8,337.9 Z" fill="url(#hsgrad)" fill-rule="evenodd"/>
<path d="M73.5,285.3 Q88,281.5 102.5,285.3 L101.5,289.6 Q88,287.6 74.5,289.6 Z" fill="#000"/>
<clipPath id="hsclip"><ellipse cx="88" cy="337.9" rx="44.4" ry="41.8"/></clipPath>
<g clip-path="url(#hsclip)" fill="#000"><circle cx="88.00" cy="314.40" r="2.65"/><circle cx="93.99" cy="315.22" r="2.65"/><circle cx="99.53" cy="317.63" r="2.65"/><circle cx="104.22" cy="321.45" r="2.65"/><circle cx="107.71" cy="326.39" r="2.65"/><circle cx="109.74" cy="332.08" r="2.65"/><circle cx="110.15" cy="338.11" r="2.65"/><circle cx="108.92" cy="344.03" r="2.65"/><circle cx="106.14" cy="349.40" r="2.65"/><circle cx="102.01" cy="353.82" r="2.65"/><circle cx="96.84" cy="356.96" r="2.65"/><circle cx="91.02" cy="358.59" r="2.65"/><circle cx="84.98" cy="358.59" r="2.65"/><circle cx="79.16" cy="356.96" r="2.65"/><circle cx="73.99" cy="353.82" r="2.65"/><circle cx="69.86" cy="349.40" r="2.65"/><circle cx="67.08" cy="344.03" r="2.65"/><circle cx="65.85" cy="338.11" r="2.65"/><circle cx="66.26" cy="332.08" r="2.65"/><circle cx="68.29" cy="326.39" r="2.65"/><circle cx="71.78" cy="321.45" r="2.65"/><circle cx="76.47" cy="317.63" r="2.65"/><circle cx="82.01" cy="315.22" r="2.65"/><circle cx="91.93" cy="309.74" r="2.65"/><circle cx="97.81" cy="311.28" r="2.65"/><circle cx="103.20" cy="314.10" r="2.65"/><circle cx="107.82" cy="318.05" r="2.65"/><circle cx="111.45" cy="322.93" r="2.65"/><circle cx="113.91" cy="328.49" r="2.65"/><circle cx="115.07" cy="334.46" r="2.65"/><circle cx="114.86" cy="340.53" r="2.65"/><circle cx="113.32" cy="346.41" r="2.65"/><circle cx="110.50" cy="351.80" r="2.65"/><circle cx="106.55" cy="356.42" r="2.65"/><circle cx="101.67" cy="360.05" r="2.65"/><circle cx="96.11" cy="362.51" r="2.65"/><circle cx="90.14" cy="363.67" r="2.65"/><circle cx="84.07" cy="363.46" r="2.65"/><circle cx="78.19" cy="361.92" r="2.65"/><circle cx="72.80" cy="359.10" r="2.65"/><circle cx="68.18" cy="355.15" r="2.65"/><circle cx="64.55" cy="350.27" r="2.65"/><circle cx="62.09" cy="344.71" r="2.65"/><circle cx="60.93" cy="338.74" r="2.65"/><circle cx="61.14" cy="332.67" r="2.65"/><circle cx="62.68" cy="326.79" r="2.65"/><circle cx="65.50" cy="321.40" r="2.65"/><circle cx="69.45" cy="316.78" r="2.65"/><circle cx="74.33" cy="313.15" r="2.65"/><circle cx="79.89" cy="310.69" r="2.65"/><circle cx="85.86" cy="309.53" r="2.65"/><circle cx="89.80" cy="304.55" r="2.65"/><circle cx="95.83" cy="305.47" r="2.65"/><circle cx="101.58" cy="307.51" r="2.65"/><circle cx="106.84" cy="310.61" r="2.65"/><circle cx="111.42" cy="314.65" r="2.65"/><circle cx="115.15" cy="319.47" r="2.65"/><circle cx="117.90" cy="324.92" r="2.65"/><circle cx="119.57" cy="330.79" r="2.65"/><circle cx="120.10" cy="336.87" r="2.65"/><circle cx="119.47" cy="342.94" r="2.65"/><circle cx="117.70" cy="348.78" r="2.65"/><circle cx="114.86" cy="354.18" r="2.65"/><circle cx="111.04" cy="358.95" r="2.65"/><circle cx="106.40" cy="362.90" r="2.65"/><circle cx="101.09" cy="365.91" r="2.65"/><circle cx="95.30" cy="367.86" r="2.65"/><circle cx="89.26" cy="368.68" r="2.65"/><circle cx="83.16" cy="368.33" r="2.65"/><circle cx="77.24" cy="366.84" r="2.65"/><circle cx="71.71" cy="364.26" r="2.65"/><circle cx="66.77" cy="360.68" r="2.65"/><circle cx="62.60" cy="356.23" r="2.65"/><circle cx="59.34" cy="351.07" r="2.65"/><circle cx="57.12" cy="345.38" r="2.65"/><circle cx="56.02" cy="339.38" r="2.65"/><circle cx="56.07" cy="333.28" r="2.65"/><circle cx="57.28" cy="327.30" r="2.65"/><circle cx="59.59" cy="321.65" r="2.65"/><circle cx="62.94" cy="316.54" r="2.65"/><circle cx="67.19" cy="312.16" r="2.65"/><circle cx="72.19" cy="308.67" r="2.65"/><circle cx="77.76" cy="306.18" r="2.65"/><circle cx="83.70" cy="304.79" r="2.65"/><circle cx="93.74" cy="300.00" r="2.65"/><circle cx="99.69" cy="301.44" r="2.65"/><circle cx="105.31" cy="303.84" r="2.65"/><circle cx="110.47" cy="307.14" r="2.65"/><circle cx="115.01" cy="311.24" r="2.65"/><circle cx="118.82" cy="316.03" r="2.65"/><circle cx="121.78" cy="321.39" r="2.65"/><circle cx="123.83" cy="327.15" r="2.65"/><circle cx="124.89" cy="333.18" r="2.65"/><circle cx="124.95" cy="339.30" r="2.65"/><circle cx="124.00" cy="345.34" r="2.65"/><circle cx="122.07" cy="351.15" r="2.65"/><circle cx="119.21" cy="356.56" r="2.65"/><circle cx="115.50" cy="361.42" r="2.65"/><circle cx="111.04" cy="365.61" r="2.65"/><circle cx="105.95" cy="369.01" r="2.65"/><circle cx="100.37" cy="371.52" r="2.65"/><circle cx="94.46" cy="373.08" r="2.65"/><circle cx="88.36" cy="373.65" r="2.65"/><circle cx="82.26" cy="373.20" r="2.65"/><circle cx="76.31" cy="371.76" r="2.65"/><circle cx="70.69" cy="369.36" r="2.65"/><circle cx="65.53" cy="366.06" r="2.65"/><circle cx="60.99" cy="361.96" r="2.65"/><circle cx="57.18" cy="357.17" r="2.65"/><circle cx="54.22" cy="351.81" r="2.65"/><circle cx="52.17" cy="346.05" r="2.65"/><circle cx="51.11" cy="340.02" r="2.65"/><circle cx="51.05" cy="333.90" r="2.65"/><circle cx="52.00" cy="327.86" r="2.65"/><circle cx="53.93" cy="322.05" r="2.65"/><circle cx="56.79" cy="316.64" r="2.65"/><circle cx="60.50" cy="311.78" r="2.65"/><circle cx="64.96" cy="307.59" r="2.65"/><circle cx="70.05" cy="304.19" r="2.65"/><circle cx="75.63" cy="301.68" r="2.65"/><circle cx="81.54" cy="300.12" r="2.65"/><circle cx="87.64" cy="299.55" r="2.65"/><circle cx="91.60" cy="294.75" r="2.65"/><circle cx="97.65" cy="295.72" r="2.65"/><circle cx="103.50" cy="297.56" r="2.65"/><circle cx="109.02" cy="300.24" r="2.65"/><circle cx="114.09" cy="303.68" r="2.65"/><circle cx="118.60" cy="307.83" r="2.65"/><circle cx="122.46" cy="312.60" r="2.65"/><circle cx="125.59" cy="317.87" r="2.65"/><circle cx="127.92" cy="323.54" r="2.65"/><circle cx="129.39" cy="329.49" r="2.65"/><circle cx="129.99" cy="335.60" r="2.65"/><circle cx="129.69" cy="341.72" r="2.65"/><circle cx="128.50" cy="347.74" r="2.65"/><circle cx="126.44" cy="353.51" r="2.65"/><circle cx="123.57" cy="358.93" r="2.65"/><circle cx="119.94" cy="363.87" r="2.65"/><circle cx="115.63" cy="368.23" r="2.65"/><circle cx="110.73" cy="371.92" r="2.65"/><circle cx="105.34" cy="374.85" r="2.65"/><circle cx="99.59" cy="376.97" r="2.65"/><circle cx="93.59" cy="378.23" r="2.65"/><circle cx="87.47" cy="378.60" r="2.65"/><circle cx="81.36" cy="378.07" r="2.65"/><circle cx="75.39" cy="376.66" r="2.65"/><circle cx="69.69" cy="374.40" r="2.65"/><circle cx="64.38" cy="371.33" r="2.65"/><circle cx="59.58" cy="367.52" r="2.65"/><circle cx="55.38" cy="363.06" r="2.65"/><circle cx="51.88" cy="358.02" r="2.65"/><circle cx="49.14" cy="352.54" r="2.65"/><circle cx="47.23" cy="346.71" r="2.65"/><circle cx="46.20" cy="340.66" r="2.65"/><circle cx="46.05" cy="334.54" r="2.65"/><circle cx="46.80" cy="328.45" r="2.65"/><circle cx="48.42" cy="322.54" r="2.65"/><circle cx="50.89" cy="316.92" r="2.65"/><circle cx="54.15" cy="311.73" r="2.65"/><circle cx="58.14" cy="307.07" r="2.65"/><circle cx="62.75" cy="303.03" r="2.65"/><circle cx="67.91" cy="299.72" r="2.65"/><circle cx="73.49" cy="297.18" r="2.65"/><circle cx="79.39" cy="295.49" r="2.65"/><circle cx="85.46" cy="294.68" r="2.65"/></g>
<circle cx="88.0" cy="336.6" r="18.0" fill="#000"/>
<circle cx="88.0" cy="336.6" r="14.2" fill="none" stroke="#fff" stroke-width="1.5" stroke-dasharray="1.5 1.6"/>
<circle cx="88.0" cy="336.6" r="10.4" fill="none" stroke="#777" stroke-width="1.0" stroke-dasharray="1.4 1.8"/>
<circle cx="88.0" cy="336.6" r="7.2" fill="#fff"/>
<path d="M59.5,381 C70,386 76.4,392 76.6,406 V481 M116.5,381 C106,386 99.6,392 99.4,406 V481" fill="none" stroke="#000" stroke-width="2.2" />
<rect x="85.9" y="373.5" width="4" height="28" rx="2" fill="#aaa" stroke="#000" stroke-width="1"/>
<circle cx="87.9" cy="499.2" r="21.6" fill="#fff" stroke="#000" stroke-width="1.9"/>
<circle cx="87.9" cy="499.1" r="12.9" fill="#fff" stroke="#000" stroke-width="2"/>
<rect x="82.5" y="514" width="11" height="10" fill="#fff"/>
<rect x="77.6" y="475" width="20.8" height="5.5" fill="#fff"/>
<line x1="76.50" y1="480.50" x2="99.80" y2="480.50" stroke="#000" stroke-width="2.6"/>
<path d="M79.6,481 V489 M97.2,481 V489" fill="none" stroke="#000" stroke-width="1.4" />
<ellipse cx="80.5" cy="518.5" rx="2.4" ry="5" fill="#fff" stroke="#000" stroke-width="1.6"/>
<ellipse cx="95.2" cy="518.5" rx="2.4" ry="5" fill="#fff" stroke="#000" stroke-width="1.6"/>
<path d="M82.7,522 V739 A5.4,5.4 0 0 0 93.5,739 V522" fill="none" stroke="#000" stroke-width="1.7" />
<line x1="88.00" y1="524.00" x2="88.00" y2="552.00" stroke="#333" stroke-width="1"/>
<line x1="109.50" y1="490.30" x2="146.00" y2="490.30" stroke="#000" stroke-width="1.7"/>
<line x1="109.50" y1="508.60" x2="146.00" y2="508.60" stroke="#000" stroke-width="1.7"/>
<line x1="187.00" y1="490.30" x2="225.50" y2="490.30" stroke="#000" stroke-width="1.7"/>
<line x1="187.00" y1="508.60" x2="225.50" y2="508.60" stroke="#000" stroke-width="1.7"/>
<path d="M155.5,480 V471.6 H178.6 V480" fill="none" stroke="#000" stroke-width="1.7" />
<circle cx="166.75" cy="499.65" r="20.5" fill="#fff" stroke="#000" stroke-width="2.1"/>
<path d="M187.5,493 H192 Q194.5,493 194.5,496 V504 Q194.5,507 192,507 H187.5" fill="#fff" stroke="#000" stroke-width="1.8" />
<path d="M246.4,478 m-4,0 a4,3.5 0 0 1 8,0" fill="none" stroke="#000" stroke-width="1.8" />
<path d="M266.3,487.5 H277.3 V511 H266.3" fill="none" stroke="#000" stroke-width="2" />
<path d="M234.2,518.5 V529.5 H257.9 V518.5" fill="none" stroke="#000" stroke-width="2" />
<circle cx="246.4" cy="499.3" r="20.5" fill="#fff" stroke="#000" stroke-width="2.1"/>
<line x1="31.43" y1="555.87" x2="109.21" y2="478.09" stroke="#111" stroke-width="1"/>
<line x1="145.54" y1="520.86" x2="223.67" y2="442.73" stroke="#111" stroke-width="1"/>
<line x1="224.20" y1="521.50" x2="302.97" y2="442.73" stroke="#111" stroke-width="1"/>
<g transform="translate(38.93 529.14) rotate(-45)"><text x="0" y="3.30" text-anchor="middle" font-size="10.2" textLength="31.00" lengthAdjust="spacingAndGlyphs">ø55mm</text></g>
<g transform="translate(45.43 535.65) rotate(-45)"><text x="0" y="3.30" text-anchor="middle" font-size="10.2" textLength="47.00" lengthAdjust="spacingAndGlyphs"><tspan font-size="8.4">[</tspan>ø2 1/8<tspan font-size="9">&quot;</tspan><tspan font-size="8.4">]</tspan></text></g>
<g transform="translate(196.93 450.03) rotate(-45)"><text x="0" y="3.30" text-anchor="middle" font-size="10.2" textLength="31.00" lengthAdjust="spacingAndGlyphs">ø55mm</text></g>
<g transform="translate(203.44 456.54) rotate(-45)"><text x="0" y="3.30" text-anchor="middle" font-size="10.2" textLength="47.00" lengthAdjust="spacingAndGlyphs"><tspan font-size="8.4">[</tspan>ø2 1/8<tspan font-size="9">&quot;</tspan><tspan font-size="8.4">]</tspan></text></g>
<g transform="translate(276.73 449.73) rotate(-45)"><text x="0" y="3.30" text-anchor="middle" font-size="10.2" textLength="31.00" lengthAdjust="spacingAndGlyphs">ø55mm</text></g>
<g transform="translate(283.24 456.24) rotate(-45)"><text x="0" y="3.30" text-anchor="middle" font-size="10.2" textLength="47.00" lengthAdjust="spacingAndGlyphs"><tspan font-size="8.4">[</tspan>ø2 1/8<tspan font-size="9">&quot;</tspan><tspan font-size="8.4">]</tspan></text></g>
<line x1="166.60" y1="522.00" x2="166.60" y2="549.50" stroke="#222" stroke-width="1.0"/>
<line x1="88.50" y1="548.50" x2="166.60" y2="548.50" stroke="#222" stroke-width="1.0"/>
<path d="M88.50,548.50 L92.50,547.50 L92.50,549.50 Z" fill="#222" stroke="none"/>
<path d="M166.60,548.50 L162.60,549.50 L162.60,547.50 Z" fill="#222" stroke="none"/>
<text x="127.40" y="538.00" text-anchor="middle" font-size="10.2" textLength="27.70" lengthAdjust="spacingAndGlyphs">102mm</text>
<text x="127.30" y="546.80" text-anchor="middle" font-size="10.2" textLength="18.60" lengthAdjust="spacingAndGlyphs"><tspan font-size="8.4">[</tspan>4<tspan font-size="9">&quot;</tspan><tspan font-size="8.4">]</tspan></text>
<line x1="246.00" y1="530.00" x2="246.00" y2="573.50" stroke="#222" stroke-width="1.0"/>
<line x1="87.50" y1="572.40" x2="246.00" y2="572.40" stroke="#222" stroke-width="1.0"/>
<path d="M87.50,572.40 L91.50,571.40 L91.50,573.40 Z" fill="#222" stroke="none"/>
<path d="M246.00,572.40 L242.00,573.40 L242.00,571.40 Z" fill="#222" stroke="none"/>
<text x="167.00" y="562.00" text-anchor="middle" font-size="10.2" textLength="28.00" lengthAdjust="spacingAndGlyphs">204mm</text>
<text x="167.00" y="570.80" text-anchor="middle" font-size="10.2" textLength="18.60" lengthAdjust="spacingAndGlyphs"><tspan font-size="8.4">[</tspan>8<tspan font-size="9">&quot;</tspan><tspan font-size="8.4">]</tspan></text>
<path d="M501.3,283.8 L522.1,290.1" fill="none" stroke="#000" stroke-width="2.4" />
<ellipse cx="509" cy="286.2" rx="4" ry="1.8" transform="rotate(16 509 286.2)" fill="#000"/>
<path d="M522.1,290.1 L494,383.5 Q488.5,396 487.8,405 L486.8,479" fill="none" stroke="#000" stroke-width="2.6" />
<path d="M501.3,284 L473.3,381.2 Q472,386 472.2,392 L475.6,479" fill="none" stroke="#000" stroke-width="2.6" />
<path d="M501.3,284 Q483,322 470.6,360.1 L468.7,379.6 L469.1,479" fill="none" stroke="#000" stroke-width="1.6" />
<path d="M494,391.3 L491,479" fill="none" stroke="#000" stroke-width="1.3" />
<path d="M462.8,363.5 Q462.8,361.7 465,361.7 H468.5 V373.4 H465 Q462.8,373.4 462.8,371 Z" fill="#fff" stroke="#000" stroke-width="1.6" />
<path d="M496,380 Q498,377.3 501,377.3 Q504.1,378 504.1,382 V397 Q504.1,401.5 500,401.5 Q495.5,401.5 495.5,397 V385" fill="none" stroke="#000" stroke-width="1.8" />
<rect x="461.2" y="477.8" width="11" height="9.8" fill="#000"/>
<path d="M471.5,481.5 H491 V486.3 Q480.4,496.5 471.5,483.5 Z" fill="#fff"/>
<line x1="469.00" y1="480.40" x2="491.50" y2="480.40" stroke="#000" stroke-width="2.3"/>
<path d="M471.5,483.3 Q480.4,497 491.2,486.8" fill="none" stroke="#000" stroke-width="1.7" />
<path d="M489,487.2 H492.1 V512.3 L484.3,509.2 H476.5 Q472.5,509.2 469.3,511.8" fill="none" stroke="#000" stroke-width="2.1" />
<path d="M440.3,483 H462 M440.3,486.8 H462" fill="none" stroke="#000" stroke-width="1.3" />
<path d="M440.3,512 H450 M440.3,515.2 H450" fill="none" stroke="#000" stroke-width="1.3" />
<rect x="449.8" y="509.5" width="18.2" height="14.5" rx="6" fill="#fff" stroke="#000" stroke-width="1.8"/>
<circle cx="459.5" cy="517.5" r="3.8" fill="#fff" stroke="#000" stroke-width="1.6"/>
<path d="M453.5,510 V524 M465.5,510 V524" fill="none" stroke="#000" stroke-width="1.2" />
<rect x="469.3" y="512" width="5.8" height="9.2" fill="#000"/>
<path d="M453.7,524 V729.2 A16.2,16.2 0 0 0 486.1,729.2 V512" fill="none" stroke="#000" stroke-width="1.7" />
<path d="M464.7,524 V728.2 A5.2,5.2 0 0 0 475.1,728.2 V512" fill="none" stroke="#000" stroke-width="1.7" />
<line x1="453.70" y1="538.70" x2="464.70" y2="538.70" stroke="#000" stroke-width="1.5"/>
<path d="M433.6,477.7 H440.3 V521.4 H433.6 Z" fill="#fff" stroke="#000" stroke-width="1.8" />
<rect x="387.6" y="474" width="5" height="14.2" rx="1.6" fill="#fff" stroke="#000" stroke-width="1.6"/>
<rect x="387.6" y="510" width="5" height="10.2" rx="1.6" fill="#fff" stroke="#000" stroke-width="1.6"/>
<rect x="389" y="477" width="2.2" height="2.5" fill="#000"/><rect x="389" y="482" width="2.2" height="2.5" fill="#000"/>
<rect x="389" y="513" width="2.2" height="2.2" fill="#000"/><rect x="389" y="517" width="2.2" height="1.6" fill="#000"/>
<line x1="389.40" y1="476.00" x2="389.40" y2="519.00" stroke="#000" stroke-width="2.4"/>
<line x1="389.40" y1="488.60" x2="433.60" y2="488.60" stroke="#000" stroke-width="2.4"/>
<line x1="389.40" y1="510.90" x2="433.60" y2="510.90" stroke="#000" stroke-width="3"/>
<path d="M395.9,488 V471.3 H418.5 V484.5 Q418.5,488 415,488" fill="none" stroke="#000" stroke-width="1.8" />
<path d="M392.8,488 V479.5 Q400,477.5 405,479.5 Q407.4,481 407.4,484 V488 Z" fill="#fff" stroke="#000" stroke-width="1.7" />
<rect x="418.9" y="482.4" width="5" height="6" fill="#fff" stroke="#000" stroke-width="1.4"/>
<line x1="426.00" y1="483.50" x2="426.00" y2="488.00" stroke="#333" stroke-width="0.9"/>
<line x1="426.00" y1="512.00" x2="426.00" y2="516.50" stroke="#333" stroke-width="0.9"/>
<line x1="428.50" y1="483.50" x2="428.50" y2="488.00" stroke="#333" stroke-width="0.9"/>
<line x1="428.50" y1="512.00" x2="428.50" y2="516.50" stroke="#333" stroke-width="0.9"/>
<line x1="431.00" y1="483.50" x2="431.00" y2="488.00" stroke="#333" stroke-width="0.9"/>
<line x1="431.00" y1="512.00" x2="431.00" y2="516.50" stroke="#333" stroke-width="0.9"/>
<rect x="419" y="512" width="5" height="5" fill="#fff" stroke="#000" stroke-width="1.2"/>
<path d="M395.9,518 V529.2 H418.5 V518" fill="none" stroke="#000" stroke-width="1.8" />
<path d="M395.9,518 Q407.2,510 418.5,518" fill="none" stroke="#000" stroke-width="1.8" />
<path d="M393,513.5 L399,520 M421.5,513.5 L415,520" fill="none" stroke="#000" stroke-width="1.2" />
<line x1="392.00" y1="512.60" x2="433.60" y2="512.60" stroke="#444" stroke-width="1"/>
<line x1="387.80" y1="443.30" x2="433.70" y2="443.30" stroke="#222" stroke-width="1.0"/>
<path d="M387.80,443.30 L391.80,442.30 L391.80,444.30 Z" fill="#222" stroke="none"/>
<path d="M433.70,443.30 L429.70,444.30 L429.70,442.30 Z" fill="#222" stroke="none"/>
<line x1="387.80" y1="441.00" x2="387.80" y2="473.00" stroke="#222" stroke-width="1.0"/>
<line x1="433.60" y1="441.00" x2="433.60" y2="555.00" stroke="#222" stroke-width="1.0"/>
<text x="411.20" y="432.90" text-anchor="middle" font-size="10.2" textLength="25.00" lengthAdjust="spacingAndGlyphs">59mm</text>
<text x="411.20" y="442.20" text-anchor="middle" font-size="10.2" textLength="43.60" lengthAdjust="spacingAndGlyphs"><tspan font-size="8.4">[</tspan>2 3/8<tspan font-size="9">&quot;</tspan><tspan font-size="8.4">]</tspan></text>
<line x1="385.80" y1="467.30" x2="448.70" y2="467.30" stroke="#222" stroke-width="1.0"/>
<path d="M433.60,467.30 L429.60,468.30 L429.60,466.30 Z" fill="#222" stroke="none"/>
<path d="M440.30,467.30 L444.30,466.30 L444.30,468.30 Z" fill="#222" stroke="none"/>
<line x1="440.30" y1="465.00" x2="440.30" y2="478.00" stroke="#222" stroke-width="1.0"/>
<text x="405.50" y="455.80" text-anchor="middle" font-size="10.2" textLength="17.70" lengthAdjust="spacingAndGlyphs">8mm</text>
<text x="408.90" y="465.60" text-anchor="middle" font-size="10.2" textLength="31.70" lengthAdjust="spacingAndGlyphs"><tspan font-size="8.4">[</tspan>3/8<tspan font-size="9">&quot;</tspan><tspan font-size="8.4">]</tspan></text>
<line x1="402.90" y1="553.70" x2="492.20" y2="553.70" stroke="#222" stroke-width="1.0"/>
<path d="M433.60,553.70 L437.60,552.70 L437.60,554.70 Z" fill="#222" stroke="none"/>
<path d="M492.20,553.70 L488.20,554.70 L488.20,552.70 Z" fill="#222" stroke="none"/>
<line x1="492.10" y1="512.00" x2="492.10" y2="555.00" stroke="#222" stroke-width="1.0"/>
<text x="417.00" y="542.00" text-anchor="middle" font-size="10.2" textLength="24.00" lengthAdjust="spacingAndGlyphs">75mm</text>
<text x="419.60" y="551.80" text-anchor="middle" font-size="10.2" textLength="18.80" lengthAdjust="spacingAndGlyphs"><tspan font-size="8.4">[</tspan>3<tspan font-size="9">&quot;</tspan><tspan font-size="8.4">]</tspan></text>
<line x1="492.10" y1="487.10" x2="516.00" y2="487.10" stroke="#222" stroke-width="1.0"/>
<line x1="492.10" y1="512.20" x2="516.00" y2="512.20" stroke="#222" stroke-width="1.0"/>
<line x1="514.90" y1="441.70" x2="514.90" y2="512.30" stroke="#222" stroke-width="1.0"/>
<path d="M514.90,487.10 L515.90,491.10 L513.90,491.10 Z" fill="#222" stroke="none"/>
<path d="M514.90,512.20 L513.90,508.20 L515.90,508.20 Z" fill="#222" stroke="none"/>
<g transform="translate(500.90 462.30) rotate(-90)"><text x="0" y="3.30" text-anchor="middle" font-size="10.2" textLength="30.50" lengthAdjust="spacingAndGlyphs">ø32mm</text></g>
<g transform="translate(509.60 461.90) rotate(-90)"><text x="0" y="3.30" text-anchor="middle" font-size="10.2" textLength="39.00" lengthAdjust="spacingAndGlyphs"><tspan font-size="8.4">[</tspan>1 1/4<tspan font-size="9">&quot;</tspan><tspan font-size="8.4">]</tspan></text></g>
</svg></body></html>
